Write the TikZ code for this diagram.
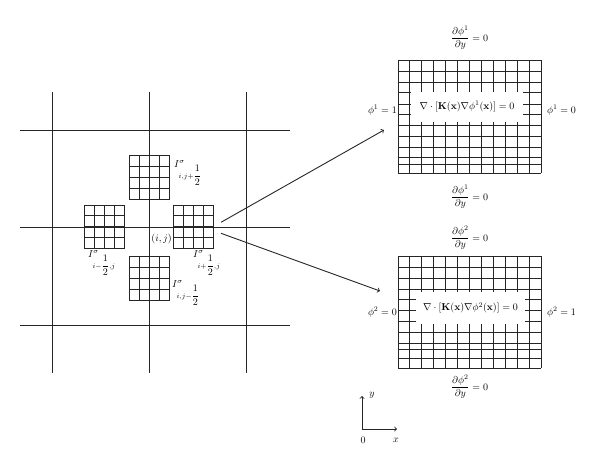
\documentclass[tikz,border=0pt]{standalone}
\usepackage{amsmath}
\usepackage{tikz}
\usetikzlibrary{calc}

\tikzset{
    gridline/.style={draw=black!85, line width=0.9pt},
    eqbox/.style={fill=white, inner sep=0pt},
    cellname/.style={anchor=north west, inner sep=0pt}
}

\begin{document}
\begin{tikzpicture}[x=1pt,y=-1pt]
    \useasboundingbox (0,0) rectangle (600,467);
    % coarse grid
    \foreach \gx in {52.7,149,246.3} \draw[gridline] (\gx,91.7) -- (\gx,373.3);
    \foreach \gy in {130,227.3,325.7} \draw[gridline] (20,\gy) -- (290,\gy);
    % fine cells round (i,j)
    \foreach \cx/\cy in {129.4/155.7, 84.3/205, 173.2/205, 129.4/256.7} {
        \foreach \k in {0,...,4} {
            \draw[gridline] (\cx+10.125*\k,\cy) -- ++(0,43.3);
            \draw[gridline] (\cx,\cy+10.83*\k) -- ++(40.5,0);
        }
    }
    \node[anchor=east, inner sep=0.5pt] (cellC) at (172.5,239) {$(i, j)$};
    \node[cellname] (cellN) at (174,160) {$I^{\sigma}_{i,j+\dfrac{1}{2}}$};
    \node[cellname] (cellW) at (88,250) {$I^{\sigma}_{i-\dfrac{1}{2},j}$};
    \node[cellname] (cellE) at (193,250) {$I^{\sigma}_{i+\dfrac{1}{2},j}$};
    \node[cellname] (cellS) at (172,280) {$I^{\sigma}_{i,j-\dfrac{1}{2}}$};

    % fine meshes
    \foreach \c in {0,...,12} {
        \draw[gridline] (398+11.917*\c,60) -- (398+11.917*\c,173);
        \draw[gridline] (398+11.917*\c,256) -- (398+11.917*\c,368);
    }
    \foreach \r in {60,71,82,92.5,104,114,125,136.5,147,157.5,164,173} \draw[gridline] (398,\r) -- (541,\r);
    \foreach \r in {256,267,278,289,299,310,321,332,343,349,358,368} \draw[gridline] (398,\r) -- (541,\r);
    \node[eqbox, minimum width=112pt, minimum height=30pt] (eqA) at (467,106.5) {$\nabla\cdot[\mathbf{K}(\mathbf{x})\nabla\phi^1(\mathbf{x})] = 0$};
    \node[eqbox, minimum width=109pt, minimum height=32pt] (eqB) at (470.5,308) {$\nabla\cdot[\mathbf{K}(\mathbf{x})\nabla\phi^2(\mathbf{x})] = 0$};

    % boundary conditions
    \node (bcAn) at (469.5,38) {$\dfrac{\partial\phi^1}{\partial y} = 0$};
    \node (bcAs) at (469.5,197) {$\dfrac{\partial\phi^1}{\partial y} = 0$};
    \node[anchor=east, inner sep=1pt] (bcAw) at (398,110) {$\phi^1 = 1$};
    \node[anchor=west, inner sep=1pt] (bcAe) at (546,110) {$\phi^1 = 0$};
    \node (bcBn) at (469.5,238) {$\dfrac{\partial\phi^2}{\partial y} = 0$};
    \node (bcBs) at (469.5,387) {$\dfrac{\partial\phi^2}{\partial y} = 0$};
    \node[anchor=east, inner sep=1pt] (bcBw) at (398,312.5) {$\phi^2 = 0$};
    \node[anchor=west, inner sep=1pt] (bcBe) at (546,312.5) {$\phi^2 = 1$};

    % zoom arrows
    \coordinate (outA) at (221,222.3);
    \coordinate (inA) at (384,130);
    \coordinate (outB) at (221,233.3);
    \coordinate (inB) at (380,291);
    \draw[gridline,->] (outA) -- (inA);
    \draw[gridline,->] (outB) -- (inB);

    % axes
    \coordinate (orig) at (362,429);
    \coordinate (yend) at (362,396);
    \coordinate (xend) at (397,429);
    \draw[gridline,->] (orig) -- (yend);
    \draw[gridline,->] (orig) -- (xend);
    \node (lblO) at (363,440) {$0$};
    \node (lblX) at (396,440) {$x$};
    \node (lblY) at (372,395) {$y$};
\end{tikzpicture}
\end{document}
